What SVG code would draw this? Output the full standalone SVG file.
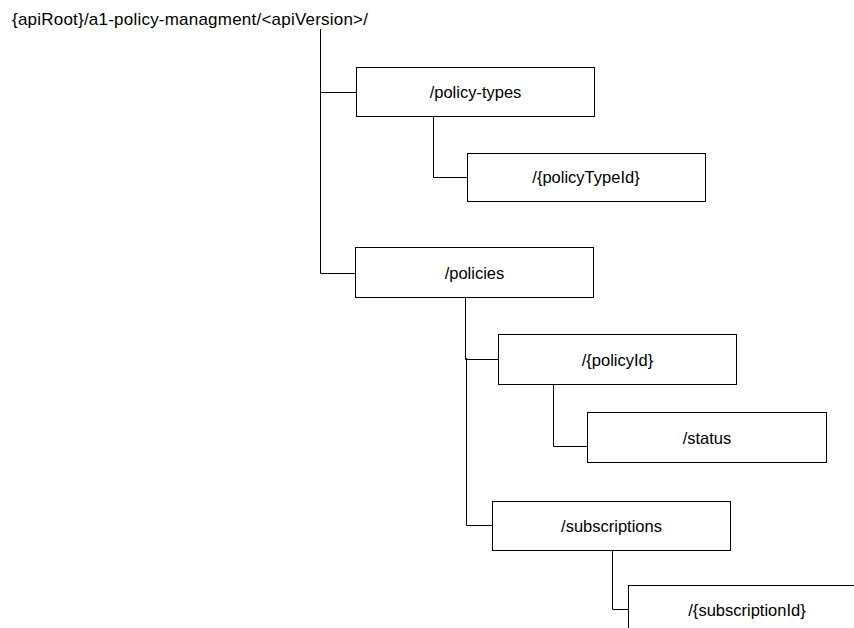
<svg xmlns="http://www.w3.org/2000/svg" width="854" height="628" viewBox="0 0 854 628">
<style>
.box{fill:#fff;stroke:#000;stroke-width:1}
.lbl{font-family:"Liberation Sans",Arial,sans-serif;font-size:16.5px;fill:#000;text-anchor:middle}
.conn{fill:none;stroke:#000;stroke-width:1}
</style>
<rect width="854" height="628" fill="#fff"/>
<text x="12" y="25" font-family="Liberation Sans, Arial, sans-serif" font-size="17px" fill="#000" textLength="356">{apiRoot}/a1-policy-managment/&lt;apiVersion&gt;/</text>
<g id="connectors">
<path class="conn" d="M320.5 29 V273.5 H355.5 M320.5 92.5 H356.5"/>
<path class="conn" d="M433.5 116 V177.5 H467.5"/>
<path class="conn" d="M465.5 297 V359.5 H498.5 M466.5 358 V525.5 H492.5"/>
<path class="conn" d="M553.5 384 V446.5 H587.5"/>
<path class="conn" d="M612.5 550 V609.5 H628.5"/>
</g>
<g id="policy-types"><rect class="box" x="356.5" y="67.5" width="238" height="49"/><text class="lbl" x="475.5" y="98">/policy-types</text></g>
<g id="policyTypeId"><rect class="box" x="467.5" y="153.5" width="238" height="48"/><text class="lbl" x="586" y="183">/{policyTypeId}</text></g>
<g id="policies"><rect class="box" x="355.5" y="247.5" width="238" height="50"/><text class="lbl" x="474.5" y="278.5">/policies</text></g>
<g id="policyId"><rect class="box" x="498.5" y="334.5" width="238" height="50"/><text class="lbl" x="617.5" y="365.5">/{policyId}</text></g>
<g id="status"><rect class="box" x="587.5" y="412.5" width="239" height="50"/><text class="lbl" x="707" y="443.5">/status</text></g>
<g id="subscriptions"><rect class="box" x="492.5" y="501.5" width="238" height="49"/><text class="lbl" x="611.5" y="531.5">/subscriptions</text></g>
<g id="subscriptionId"><rect class="box" x="628.5" y="585.5" width="238" height="50"/><text class="lbl" x="747" y="615.5">/{subscriptionId}</text></g>
</svg>
